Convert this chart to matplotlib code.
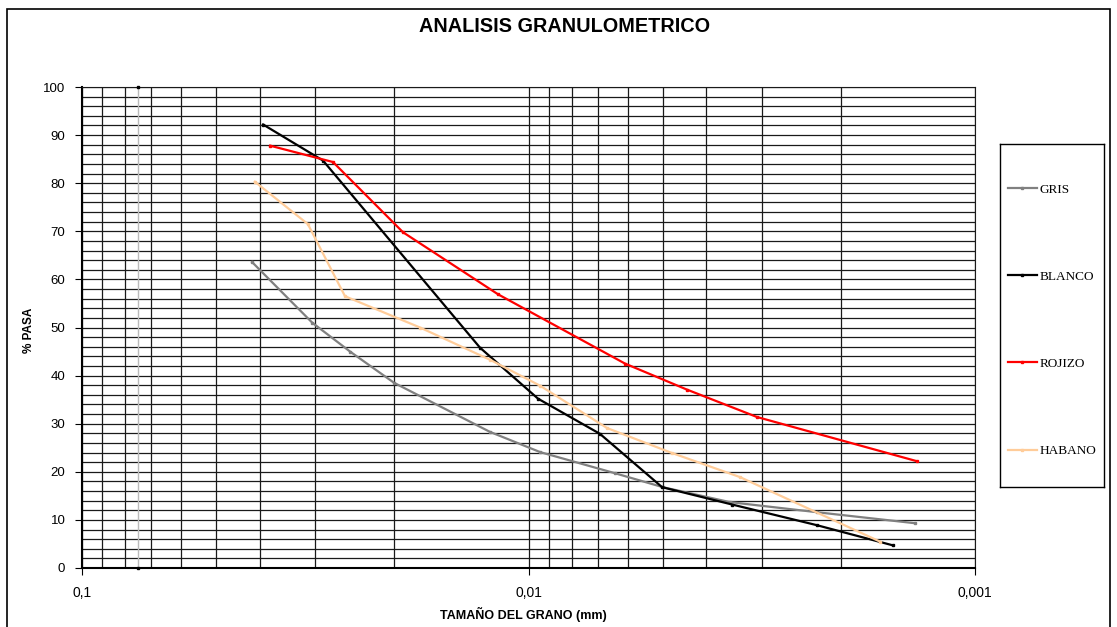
import matplotlib
matplotlib.use("Agg")
import matplotlib.pyplot as plt
from matplotlib.ticker import FixedLocator, FixedFormatter, MultipleLocator, LogLocator, NullFormatter
from matplotlib.patches import Rectangle

plt.rcParams['font.family'] = ['Liberation Sans', 'DejaVu Sans']

# ---- data (diameter in mm, % passing) ----
gris_x = [0.0416, 0.0305, 0.0251, 0.0200, 0.0122, 0.00942, 0.00640, 0.00500, 0.00354, 0.00226, 0.00136]
gris_y = [63.6, 51.0, 45.0, 38.5, 28.3, 24.1, 19.7, 16.8, 13.7, 11.6, 9.3]

blanco_x = [0.0393, 0.02885, 0.01284, 0.00952, 0.00692, 0.00502, 0.00350, 0.00226, 0.001526]
blanco_y = [92.2, 84.7, 45.8, 35.2, 27.9, 16.8, 13.2, 8.9, 4.7]

rojizo_x = [0.0379, 0.02741, 0.0191, 0.0117, 0.00608, 0.00442, 0.00308, 0.001349]
rojizo_y = [87.8, 84.4, 69.8, 56.9, 42.5, 37.1, 31.4, 22.2]

habano_x = [0.0410, 0.0312, 0.02576, 0.0175, 0.0122, 0.00942, 0.00667, 0.00477, 0.00336, 0.001633]
habano_y = [80.3, 71.5, 56.5, 50.0, 43.3, 37.9, 29.1, 23.9, 18.9, 5.5]

sieve200_x = [0.075, 0.075]
sieve200_y = [0, 100]

series_names = ['GRIS', 'BLANCO', 'ROJIZO', 'HABANO']
series_colors = ['#808080', '#000000', '#FF0000', '#FFCC99']

x_ticks = [0.1, 0.01, 0.001]
x_tick_labels = ['0,1', '0,01', '0,001']

W, H = 1117, 627
fig = plt.figure(figsize=(W / 100, H / 100), dpi=100)
fig.patch.set_facecolor('white')

# outer border
fig.add_artist(Rectangle((7 / W, -0.01), (1110 - 7) / W, (H - 9) / H + 0.01,
                         transform=fig.transFigure, fill=False, edgecolor='black', lw=1.2))

ax = fig.add_axes([82 / W, (H - 568) / H, (975 - 82) / W, (568 - 87) / H])
ax.set_xscale('log')
ax.set_xlim(0.1, 0.001)
ax.set_ylim(0, 100)

ax.xaxis.set_major_locator(FixedLocator(x_ticks))
ax.xaxis.set_major_formatter(FixedFormatter(x_tick_labels))
ax.xaxis.set_minor_locator(LogLocator(base=10, subs=range(2, 10)))
ax.xaxis.set_minor_formatter(NullFormatter())
ax.yaxis.set_major_locator(MultipleLocator(10))
ax.yaxis.set_minor_locator(MultipleLocator(2))

ax.grid(True, which='both', axis='both', color='#1a1a1a', lw=0.9)
ax.set_axisbelow(True)
ax.tick_params(axis='both', which='minor', length=0)
ax.tick_params(axis='x', which='major', length=5, direction='out', pad=8, labelsize=10)
ax.tick_params(axis='y', which='major', length=5, direction='out', pad=7, labelsize=9.5)
for s in ['top', 'right']:
    ax.spines[s].set_color('#1a1a1a')
for s in ['left', 'bottom']:
    ax.spines[s].set_linewidth(1.5)

# #200 sieve reference line
ax.plot(sieve200_x, sieve200_y, color='#BBBBBB', lw=1.0, marker='s', ms=1.8,
        mfc='black', mec='black', zorder=3, clip_on=False)

handles = []
for xs, ys, name, col in zip([gris_x, blanco_x, rojizo_x, habano_x],
                             [gris_y, blanco_y, rojizo_y, habano_y],
                             series_names, series_colors):
    h, = ax.plot(xs, ys, color=col, lw=1.6, marker='s', ms=1.5, mfc=col, mec=col,
                 label=name, zorder=4)
    handles.append(h)

fig.text(565 / W, 1 - 27 / H, 'ANALISIS GRANULOMETRICO', ha='center', va='center',
         fontsize=14.3, fontweight='bold')

ax.set_xlabel('TAMAÑO DEL GRANO (mm)', fontsize=9, fontweight='bold')
ax.xaxis.set_label_coords((523 - 82) / (975 - 82), -(607 - 568) / (568 - 87))
ax.set_ylabel('% PASA', fontsize=8.5, fontweight='bold')
ax.yaxis.set_label_coords(-(82 - 35) / (975 - 82), 0.495)

# legend box
lax = fig.add_axes([1000 / W, (H - 487) / H, 104 / W, (487 - 144) / H])
lax.set_xticks([])
lax.set_yticks([])
for s in lax.spines.values():
    s.set_color('black')
    s.set_linewidth(1.0)
lax.legend(handles, series_names, loc='center', bbox_to_anchor=(0.5, 0.486),
           frameon=False, labelspacing=5.68, handlelength=2.2, handletextpad=0.2,
           prop={'family': ['Liberation Serif', 'DejaVu Serif'], 'size': 9.5})

fig.savefig('out.png', dpi=100, facecolor='white')
